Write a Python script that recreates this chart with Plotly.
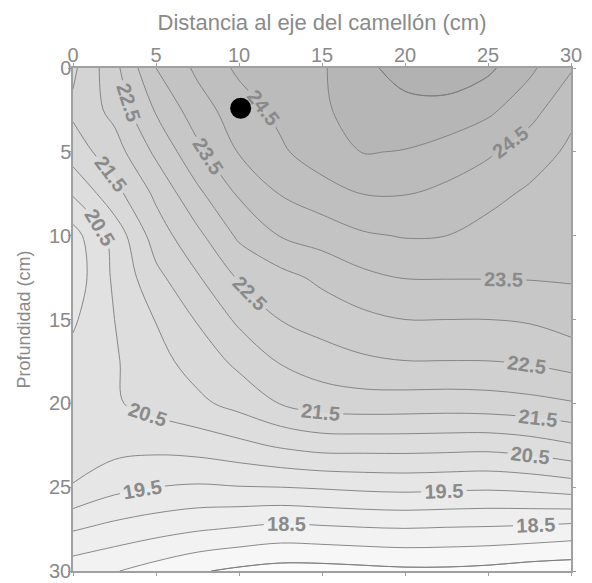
import plotly.graph_objects as go

# grid coordinates (cm)
dist_cm = [0, 2.5, 5, 7.5, 10, 12.5, 15, 17.5, 20, 22.5, 25, 27.5, 30]
depth_cm = [0, 2.5, 5, 7.5, 10, 12.5, 15, 17.5, 20, 22.5, 25, 27.5, 30]

# values (one row per depth)
row_00 = [21.4, 22.35, 23.5, 24.1, 24.6, 24.8, 24.95, 25.35, 25.75, 25.85, 25.6, 25.1, 24.55]
row_02 = [21.6, 22.15, 23.05, 23.78, 24.26, 24.63, 24.95, 25.15, 25.3, 25.3, 25.1, 24.7, 24.1]
row_05 = [21.25, 21.78, 22.6, 23.38, 24.03, 24.42, 24.78, 25.02, 24.98, 24.82, 24.58, 24.21, 23.92]
row_07 = [20.55, 21.33, 22.1, 22.89, 23.56, 24.02, 24.28, 24.51, 24.52, 24.37, 24.13, 23.93, 23.8]
row_10 = [19.8, 20.69, 21.74, 22.38, 23.09, 23.52, 23.72, 23.94, 24.03, 24.0, 23.85, 23.75, 23.68]
row_12 = [19.7, 20.59, 21.36, 21.95, 22.55, 22.84, 23.11, 23.38, 23.52, 23.52, 23.52, 23.53, 23.55]
row_15 = [19.93, 20.5, 21.02, 21.54, 22.1, 22.51, 22.71, 22.88, 23.0, 23.0, 23.0, 23.05, 23.22]
row_17 = [20.15, 20.45, 20.83, 21.21, 21.62, 22.04, 22.27, 22.42, 22.49, 22.49, 22.49, 22.56, 22.7]
row_20 = [20.25, 20.45, 20.67, 20.89, 21.17, 21.52, 21.72, 21.78, 21.77, 21.75, 21.78, 21.85, 21.96]
row_22 = [20.18, 20.18, 20.15, 20.22, 20.37, 20.57, 20.71, 20.71, 20.71, 20.69, 20.67, 20.77, 20.95]
row_25 = [19.98, 19.65, 19.5, 19.44, 19.48, 19.5, 19.55, 19.61, 19.64, 19.61, 19.58, 19.64, 19.75]
row_27 = [19.04, 18.84, 18.69, 18.55, 18.45, 18.35, 18.4, 18.45, 18.48, 18.45, 18.43, 18.39, 18.31]
row_30 = [18.2, 18.03, 17.79, 17.55, 17.4, 17.3, 17.3, 17.35, 17.4, 17.4, 17.35, 17.25, 17.2]

z_rows = [row_00, row_02, row_05, row_07, row_10, row_12, row_15,
          row_17, row_20, row_22, row_25, row_27, row_30]

# sensor position (black dot)
dot_x = [10.1]
dot_y = [2.4]

tick_vals = [0, 5, 10, 15, 20, 25, 30]

GRAY_TXT = "#8a8a8a"
LINE_C = "#7d7d7d"
FONT = "Liberation Sans, Arial, sans-serif"

fig = go.Figure()

# filled bands (no lines)
fig.add_trace(go.Contour(
    x=dist_cm, y=depth_cm, z=z_rows,
    autocontour=False,
    contours=dict(start=17.5, end=25.5, size=0.5, coloring="fill", showlines=False),
    colorscale=[[0, "rgb(251,251,251)"], [1, "rgb(178,178,178)"]],
    line=dict(width=0, smoothing=1.0),
    showscale=False, hoverinfo="skip",
))
# integer level lines (no labels)
fig.add_trace(go.Contour(
    x=dist_cm, y=depth_cm, z=z_rows,
    autocontour=False,
    contours=dict(start=18, end=25, size=1, coloring="none"),
    line=dict(width=0.9, color=LINE_C, smoothing=1.0),
    showscale=False, hoverinfo="skip",
))
# outermost half levels (no labels)
fig.add_trace(go.Contour(
    x=dist_cm, y=depth_cm, z=z_rows,
    autocontour=False,
    contours=dict(start=17.5, end=25.5, size=8, coloring="none"),
    line=dict(width=0.9, color=LINE_C, smoothing=1.0),
    showscale=False, hoverinfo="skip",
))
# labelled half levels (18.5 ... 24.5); the wide level range only sets label density
fig.add_trace(go.Contour(
    x=dist_cm, y=depth_cm, z=z_rows,
    autocontour=False,
    contours=dict(start=-5.5, end=44.5, size=1, coloring="none", showlabels=True,
                  labelformat=".1f",
                  labelfont=dict(family=FONT, size=20, color=GRAY_TXT, weight="bold")),
    line=dict(width=0.9, color=LINE_C, smoothing=1.0),
    showscale=False, hoverinfo="skip",
))

fig.add_trace(go.Scatter(
    x=dot_x, y=dot_y, mode="markers",
    marker=dict(size=21, color="black"),
    showlegend=False, hoverinfo="skip",
))

axis_common = dict(
    ticks="outside", ticklen=3, tickcolor="#a0a0a0",
    showline=True, linecolor="#a0a0a0", linewidth=1.5, mirror="ticks",
    showgrid=False, zeroline=False, automargin=False,
    tickvals=tick_vals, ticklabeloverflow="allow",
    tickfont=dict(family=FONT, size=20, color=GRAY_TXT),
)

# the page body has an 8px margin; the figure is offset by it
fig.update_layout(
    width=584, height=575,
    margin=dict(l=65, r=21, t=60, b=12),
    paper_bgcolor="white", plot_bgcolor="white",
    showlegend=False,
    xaxis=dict(side="top", range=[0, 30], ticklabelstandoff=-7,
               title=dict(text="Distancia al eje del camellón (cm)",
                          font=dict(family=FONT, size=22, color=GRAY_TXT),
                          standoff=8),
               **axis_common),
    yaxis=dict(range=[30, 0], ticklabelstandoff=-7,
               title=dict(text="Profundidad (cm)",
                          font=dict(family=FONT, size=18, color=GRAY_TXT),
                          standoff=14),
               **axis_common),
)

fig.write_html("out.html")
